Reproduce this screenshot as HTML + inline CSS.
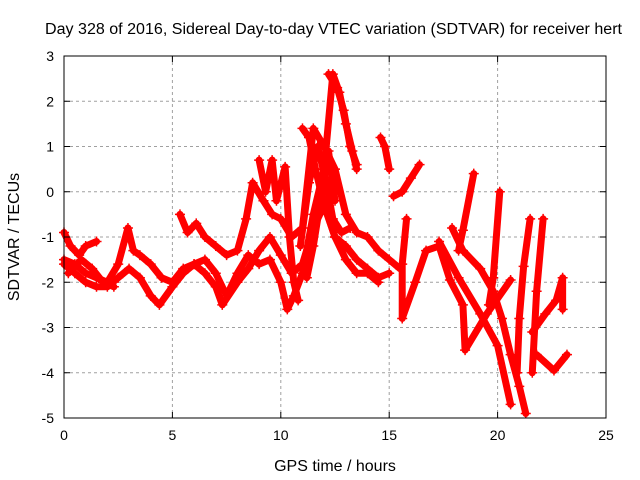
<!DOCTYPE html>
<html><head><meta charset="utf-8"><style>
body{margin:0;background:#fff}
svg{display:block;font-family:"Liberation Sans",sans-serif}
</style></head><body>
<svg id="chart" width="640" height="480">
<text x="45" y="34" font-size="15.5" textLength="577" lengthAdjust="spacingAndGlyphs">Day 328 of 2016, Sidereal Day-to-day VTEC variation (SDTVAR) for receiver hert</text>
<g id="grid"></g>
<g id="marks"></g>
<rect x="64" y="56" width="542" height="362" fill="none" stroke="#000" stroke-width="1"/>
<g id="axes"></g>
<text x="335" y="471" font-size="16" text-anchor="middle">GPS time / hours</text>
<text transform="translate(19,237) rotate(-90)" font-size="16" text-anchor="middle">SDTVAR / TECUs</text>
</svg>
<script>
const xTicks=[0,5,10,15,20,25];
const yTicks=[-5,-4,-3,-2,-1,0,1,2,3];
const trackA=[[0,-1.6],[0.5,-1.8],[1,-2.0],[1.5,-2.1],[2,-2.1],[2.5,-1.9],[3,-1.7],[3.5,-1.9],[4,-2.3],[4.4,-2.5],[5,-2.1],[5.5,-1.8],[6,-1.6],[6.5,-1.8],[7,-2.1],[7.3,-2.5],[8,-2.0],[8.5,-1.7],[9,-1.3],[9.5,-1.0],[10,-1.4],[10.5,-1.8],[11,-1.6],[11.5,-0.8],[12,-0.3],[12.5,-1.0],[13,-1.2],[13.5,-1.5],[14,-1.7],[14.5,-1.9],[15,-1.8]];
const trackB=[[0,-0.9],[0.3,-1.2],[0.7,-1.4],[1,-1.2],[1.5,-1.1]];
const trackC=[[0,-1.5],[0.5,-1.6],[1,-1.8],[1.5,-1.9],[2,-2.0],[2.5,-1.6],[2.95,-0.8],[3.2,-1.3],[3.5,-1.4],[4,-1.6],[4.5,-1.9],[5,-2.0],[5.5,-1.7],[6,-1.6],[6.5,-1.5],[7,-1.8],[7.5,-2.3],[8,-1.8],[8.5,-1.4],[9,-1.6],[9.5,-1.5],[10,-2.0],[10.3,-2.6],[10.6,-2.3],[11,-1.8],[11.5,-0.5],[12,0.5],[12.4,2.6],[12.7,2.2],[13,1.5],[13.3,0.9],[13.5,0.5]];
const trackD=[[5.35,-0.5],[5.7,-0.9],[6.1,-0.7],[6.5,-1.0],[7,-1.2],[7.5,-1.4],[8,-1.3],[8.4,-0.6],[8.7,0.2],[9.2,-0.2],[9.6,-0.5],[10,-0.6],[10.5,-1.0],[11,-0.8],[11.5,1.4],[12,1.0],[12.5,0.5],[13,-0.5],[13.5,-0.9],[14,-1.0],[14.5,-1.3],[15,-1.5],[15.5,-1.7]];
const trackE=[[9,0.7],[9.3,0.0],[9.6,0.7],[9.8,-0.2],[10.2,0.55],[10.4,-1.0],[10.6,-2.0],[10.8,-2.4]];
const trackF=[[11,1.4],[11.3,1.2],[11.6,0.5],[12,-0.3],[12.5,-1.0],[13,-1.5],[13.5,-1.8],[14,-1.8],[14.5,-2.0]];
const trackG=[[12.2,2.6],[12.6,2.3],[12.9,1.8],[13.2,1.0],[13.5,0.6]];
const trackH=[[14.6,1.2],[14.8,1.0],[15,0.5]];
const trackI=[[15.2,-0.1],[15.6,0.0],[16,0.3],[16.4,0.6]];
const trackJ=[[15.8,-0.6],[15.6,-1.6],[15.6,-2.8],[16.2,-2.0],[16.7,-1.3],[17.3,-1.2]];
const trackK=[[17.9,-0.8],[18.4,-1.3],[19.2,-1.7],[19.8,-2.2],[20.2,-2.8],[20.6,-3.6],[21.0,-4.3],[21.3,-4.9]];
const trackL=[[17.3,-1.2],[17.8,-1.95],[18.4,-2.5],[18.5,-3.5],[19.5,-2.7],[20.6,-1.95]];
const trackM=[[17.3,-1.1],[18.2,-1.9],[19.2,-2.7],[20,-3.4],[20.6,-4.7]];
const trackN=[[18.9,0.4],[18.4,-0.85],[18.2,-1.3]];
const trackO=[[20.1,0.0],[19.8,-1.9],[19.6,-2.5]];
const trackP=[[22.1,-0.6],[21.8,-2.2],[21.6,-4.0]];
const trackQ=[[21.5,-0.6],[21.2,-1.65],[21.0,-2.8],[20.9,-4.0]];
const trackR=[[21.6,-3.1],[22.2,-2.7],[22.7,-2.4],[23,-1.9],[23,-2.6]];
const trackS=[[21.8,-3.6],[22.6,-3.95],[23.2,-3.6]];
const trackT=[[10.9,-1.2],[11.3,0.2],[11.7,1.0],[12.1,0.2],[12.4,-0.6],[12.8,-0.9],[13.2,-0.8]];
const trackU=[[11.2,-1.9],[11.5,-1.2],[11.9,0.0],[12.2,0.9],[12.5,-0.2]];
const trackV=[[0.2,-1.8],[0.8,-1.5],[1.3,-1.7],[1.8,-2.0],[2.3,-2.1]];
const tracks=[trackA,trackB,trackC,trackD,trackE,trackF,trackG,trackH,trackI,trackJ,trackK,trackL,trackM,trackN,trackO,trackP,trackQ,trackR,trackS,trackT,trackU,trackV];
const NS="http://www.w3.org/2000/svg";
const X0=64,X1=606,Y0=418,Y1=56;
function sx(v){return X0+(v-0)/(25-0)*(X1-X0);}
function sy(v){return Y0-(v+5)/(3+5)*(Y0-Y1);}
const grid=document.getElementById('grid'),axes=document.getElementById('axes'),marks=document.getElementById('marks');
function mk(tag,attrs,parent){const e=document.createElementNS(NS,tag);for(const k in attrs)e.setAttribute(k,attrs[k]);parent.appendChild(e);return e;}
xTicks.forEach(t=>{
  const x=sx(t);
  if(t>0&&t<25){const g=mk('line',{x1:x,x2:x,y1:Y1,y2:Y0,stroke:'#a0a0a0','stroke-dasharray':'3,3'},grid);
  
  }
  const tx=mk('text',{x:x,y:Y0+22,'font-size':14,'text-anchor':'middle'},axes);tx.textContent=t;
  
  
  mk('line',{x1:x,x2:x,y1:Y0,y2:Y0-6,stroke:'#000'},axes);
  mk('line',{x1:x,x2:x,y1:Y1,y2:Y1+6,stroke:'#000'},axes);
});
yTicks.forEach(t=>{
  const y=sy(t);
  if(t>-5&&t<3){const g=mk('line',{x1:X0,x2:X1,y1:y,y2:y,stroke:'#a0a0a0','stroke-dasharray':'3,3'},grid);
  
  }
  const tx=mk('text',{x:X0-10,y:y+5,'font-size':14,'text-anchor':'end'},axes);tx.textContent=t;
  
  
  mk('line',{x1:X0,x2:X0+6,y1:y,y2:y,stroke:'#000'},axes);
  mk('line',{x1:X1,x2:X1-6,y1:y,y2:y,stroke:'#000'},axes);
});
tracks.forEach((tr,i)=>{
  const pts=tr.map(p=>sx(p[0])+','+sy(p[1])).join(' ');
  const pl=mk('polyline',{points:pts,fill:'none',stroke:'#f00','stroke-width':7,'stroke-linejoin':'round','stroke-linecap':'round'},marks);
  
  
  tr.forEach(p=>{
    const x=sx(p[0]),y=sy(p[1]);
    const m=mk('path',{d:`M${x-5},${y}H${x+5}M${x},${y-5}V${y+5}`,stroke:'#f00','stroke-width':1.5},marks);
    
    
  });
});
</script>
</body></html>
